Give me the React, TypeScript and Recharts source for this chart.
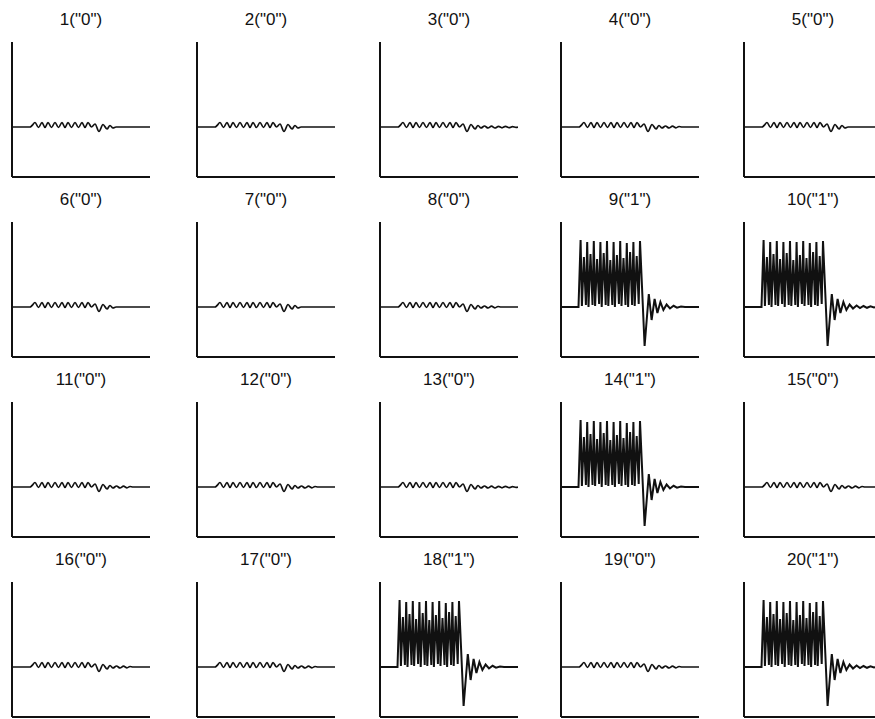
import React from "react";
import { LineChart, Line, XAxis, YAxis } from "recharts";

// panel numbers and the bit each one carries
const PANEL_IDS = [1, 2, 3, 4, 5, 6, 7, 8, 9, 10, 11, 12, 13, 14, 15, 16, 17, 18, 19, 20];
const PANEL_BITS = ["0", "0", "0", "0", "0", "0", "0", "0", "1", "1", "0", "0", "0", "1", "0", "0", "0", "1", "0", "1"];
// which trace shape each panel shows
const PANEL_WAVE = [
  "zeroShort", "zeroShort", "zeroLong", "zeroMid", "zeroShort",
  "zeroShort", "zeroShort", "zeroMid", "one", "oneLong",
  "zeroMid", "zeroMid", "zeroLong", "one", "zeroMid",
  "zeroMid", "zeroMid", "one", "zeroMid", "oneLong",
];

// [time, amplitude] samples
const ZERO_BURST: [number, number][] = [
  [0, 0], [18, 0], [20, 1.5], [23, 4.5], [26.5, -0.5], [30, 4.5], [33, -0.5], [36, 4.5], [39.5, -0.5],
  [43, 4.5], [46.5, -0.5], [50, 4.5], [53, -0.5], [56, 4.5], [59.5, -0.5], [63, 4.5], [66.5, -0.5],
  [70, 4.5], [73, -0.5], [76, 4.5], [79.5, 0], [83, 3], [87, -4.5], [91, 2.5], [95, -2],
  [98, 1.5], [101, -1],
];
const ZERO_SHORT_TAIL: [number, number][] = [[104, 0], [138, 0]];
const ZERO_MID_TAIL: [number, number][] = [
  [104.5, 1], [108, -1], [111.5, 0.8], [115, -0.8], [118, 0.5], [121, 0], [138, 0],
];
const ZERO_LONG_TAIL: [number, number][] = [
  [104.5, 1], [108, -1], [111.5, 0.8], [115, -1], [118.5, 0.6], [122, -0.8],
  [125.5, 0.6], [129, -0.7], [132.5, 0.4], [136, -0.4], [138, 0],
];

const ONE_BURST: [number, number][] = [
  [0, 0], [17.5, 0], [19.6, 67], [20.9, 1], [22.9, 50], [24.9, 2],
  [26.2, 65], [27.5, 0], [29.5, 53], [31.5, 2],
  [32.8, 66], [34.1, 1], [36.1, 48], [38.1, 3],
  [39.4, 65], [40.7, 0], [42.7, 54], [44.7, 2],
  [46, 66], [47.3, 1], [49.3, 47], [51.3, 2],
  [52.6, 65], [53.9, 0], [55.9, 52], [57.9, 3],
  [59.2, 66], [60.5, 1], [62.5, 49], [64.5, 2],
  [65.8, 64], [67.1, 0], [69.1, 55], [71.1, 2],
  [72.4, 65], [73.7, 1], [75.7, 51], [77.7, 3],
  [79, 66], [83.6, -39], [87.8, 13], [90.6, -13], [93.6, 8], [96.4, -6],
  [99.4, 5], [102.4, -3],
];
const ONE_SHORT_TAIL: [number, number][] = [
  [105.6, 2.5], [109, -1.5], [112.6, 1.2], [116, -0.6], [120, 0.4], [124, 0], [138, 0],
];
const ONE_LONG_TAIL: [number, number][] = [
  [105.6, 2.5], [109, -1.5], [112.6, 1.5], [116, -1], [119.5, 1], [123, -0.8],
  [126.5, 0.6], [130, -0.5], [133.5, 0.3], [137, 0], [138, 0],
];

const WAVES: Record<string, [number, number][]> = {
  zeroShort: [...ZERO_BURST, ...ZERO_SHORT_TAIL],
  zeroMid: [...ZERO_BURST, ...ZERO_MID_TAIL],
  zeroLong: [...ZERO_BURST, ...ZERO_LONG_TAIL],
  one: [...ONE_BURST, ...ONE_SHORT_TAIL],
  oneLong: [...ONE_BURST, ...ONE_LONG_TAIL],
};

// page layout (left axis x, top of plot)
const COL_X = [12, 197, 380, 561, 744];
const ROW_TOP = [42, 222, 402, 582];
const PLOT_W = 138;
const PLOT_H = 135;
const AXIS_W = 10;
const AXIS_H = 5;

const axisStyle = { stroke: "#111", strokeWidth: 2 };

function Panel({ idx }: { idx: number }) {
  const col = idx % 5;
  const row = Math.floor(idx / 5);
  const left = COL_X[col];
  const top = ROW_TOP[row];
  const wave = PANEL_WAVE[idx];
  const data = WAVES[wave].map(([t, v]) => ({ t, v }));
  const isOne = wave.startsWith("one");

  return (
    <>
      <div
        style={{
          position: "absolute",
          left: left + PLOT_W / 2 - 60,
          top: top - 33,
          width: 120,
          lineHeight: "22px",
          textAlign: "center",
          fontFamily: "'Liberation Sans', Arial, sans-serif",
          fontSize: 17,
          color: "#111",
        }}
      >
        {`${PANEL_IDS[idx]}("${PANEL_BITS[idx]}")`}
      </div>
      <div style={{ position: "absolute", left: left - AXIS_W, top: top - 2 }}>
        <LineChart
          width={AXIS_W + PLOT_W + 4}
          height={PLOT_H + AXIS_H + 2}
          data={data}
          margin={{ top: 2, right: 4, bottom: 0, left: 0 }}
        >
          <XAxis
            type="number"
            dataKey="t"
            domain={[0, PLOT_W]}
            allowDataOverflow
            tick={false}
            tickLine={false}
            axisLine={axisStyle}
            height={AXIS_H}
          />
          <YAxis
            type="number"
            domain={[-50, 85]}
            allowDataOverflow
            tick={false}
            tickLine={false}
            axisLine={axisStyle}
            width={AXIS_W}
          />
          <Line
            type={isOne ? "linear" : "monotone"}
            dataKey="v"
            stroke="#111"
            strokeWidth={isOne ? 2 : 1.7}
            dot={false}
            isAnimationActive={false}
          />
        </LineChart>
      </div>
    </>
  );
}

export default function App() {
  return (
    <div
      style={{
        position: "absolute",
        left: 0,
        top: 0,
        width: 875,
        height: 719,
        overflow: "hidden",
        background: "#fff",
      }}
    >
      {PANEL_IDS.map((_, i) => (
        <Panel key={i} idx={i} />
      ))}
    </div>
  );
}
